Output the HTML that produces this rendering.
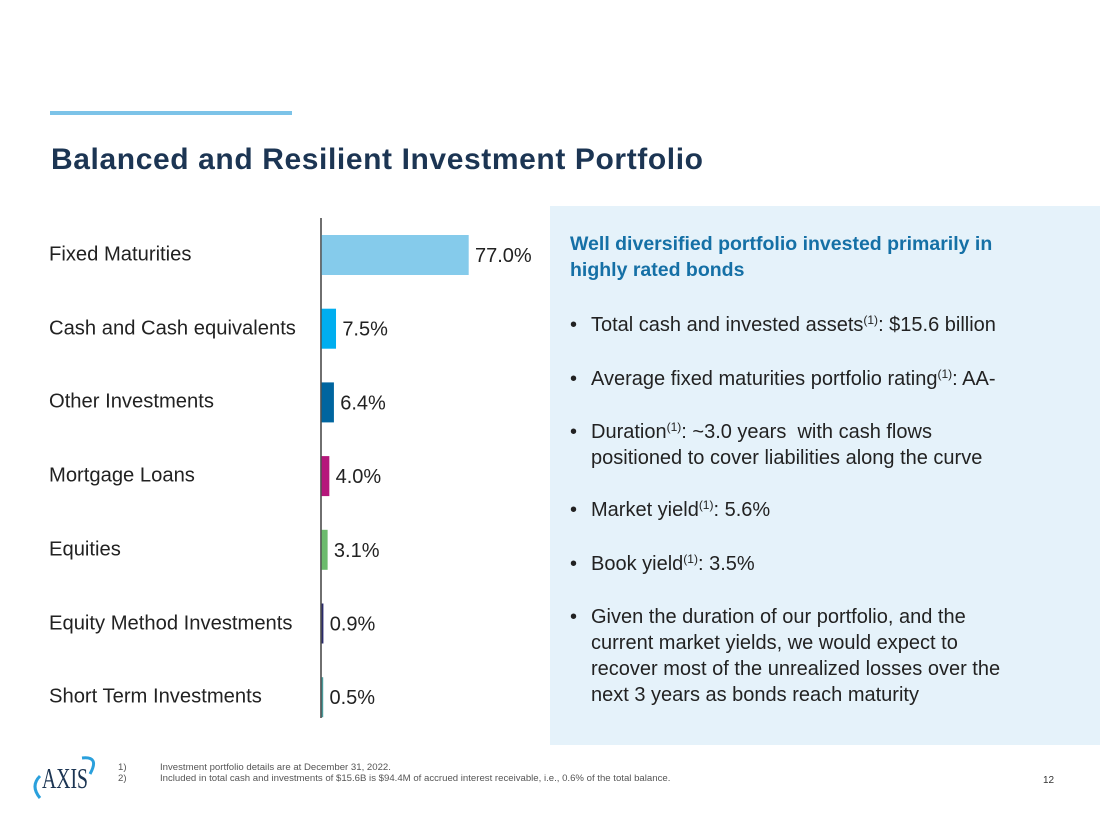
<!DOCTYPE html>
<html><head><meta charset="utf-8"><style>
body{margin:0;width:1100px;height:825px;background:#fff;font-family:"Liberation Sans",sans-serif;position:relative;overflow:hidden}
.abs{position:absolute}
.lbl{position:absolute;left:49px;font-size:20.2px;color:#222;transform:translateY(-50%);white-space:nowrap}
.panel{left:550px;top:206px;width:550px;height:539px;background:#e5f2fa}
.bul{position:absolute;left:570px;font-size:20px;color:#222;line-height:26px;width:445px}
.bul span.d{position:absolute;left:0}
.bul div{margin-left:21px}
sup{font-size:12px;vertical-align:7px;line-height:0}
</style></head><body>
<div class="abs" style="left:50px;top:111px;width:242px;height:4px;background:#7cc3e8"></div>
<div class="abs" style="left:51px;top:143px;font-size:30px;font-weight:bold;color:#1c3553;letter-spacing:0.6px">Balanced and Resilient Investment Portfolio</div>
<svg class="abs" style="left:0;top:0" width="550" height="745" id="chart"></svg>
<div class="abs panel"></div>
<div class="abs" style="left:570px;top:231px;font-size:19.5px;font-weight:bold;color:#1570a6;line-height:26px;width:475px">Well diversified portfolio invested primarily in highly rated bonds</div>
<div class="bul" style="top:312px"><span class="d">•</span><div>Total cash and invested assets<sup>(1)</sup>: $15.6 billion</div></div>
<div class="bul" style="top:366px"><span class="d">•</span><div>Average fixed maturities portfolio rating<sup>(1)</sup>: AA-</div></div>
<div class="bul" style="top:419px"><span class="d">•</span><div>Duration<sup>(1)</sup>: ~3.0 years&nbsp; with cash flows positioned to cover liabilities along the curve</div></div>
<div class="bul" style="top:497px"><span class="d">•</span><div>Market yield<sup>(1)</sup>: 5.6%</div></div>
<div class="bul" style="top:551px"><span class="d">•</span><div>Book yield<sup>(1)</sup>: 3.5%</div></div>
<div class="bul" style="top:604px"><span class="d">•</span><div>Given the duration of our portfolio, and the current market yields, we would expect to recover most of the unrealized losses over the next 3 years as bonds reach maturity</div></div>
<svg class="abs" style="left:30px;top:752px" width="75" height="50">
<path d="M10 46 Q0 34 10 24" stroke="#2aa0dc" stroke-width="3" fill="none"/>
<path d="M52 6 Q70 4 60 22" stroke="#2aa0dc" stroke-width="3" fill="none"/>
<text x="12" y="36" font-family="Liberation Serif,serif" font-size="28" fill="#1c3553" textLength="46" lengthAdjust="spacingAndGlyphs">AXIS</text>
</svg>
<div class="abs" style="left:118px;top:762px;font-size:9.6px;color:#555;line-height:11px">
<div><span style="display:inline-block;width:42px">1)</span>Investment portfolio details are at December 31, 2022.</div>
<div><span style="display:inline-block;width:42px">2)</span>Included in total cash and investments of $15.6B is $94.4M of accrued interest receivable, i.e., 0.6% of the total balance.</div>
</div>
<div class="abs" style="left:1043px;top:775px;font-size:10px;color:#333">12</div>
<script>
const categories=["Fixed Maturities","Cash and Cash equivalents","Other Investments","Mortgage Loans","Equities","Equity Method Investments","Short Term Investments"];
const values=[77.0,7.5,6.4,4.0,3.1,0.9,0.5];
const valueLabels=["77.0%","7.5%","6.4%","4.0%","3.1%","0.9%","0.5%"];
const colors=["#85cbeb","#00aeef","#00659f","#b5177b","#6cbb6d","#2b2b6b","#4a9a9a"];
const svg=document.getElementById('chart');
const NS='http://www.w3.org/2000/svg';
const x0=321,scale=147/77;
const y=i=>255+i*73.7;
const ax=document.createElementNS(NS,'line');
ax.setAttribute('x1',x0);ax.setAttribute('x2',x0);ax.setAttribute('y1',218);ax.setAttribute('y2',718);
ax.setAttribute('stroke','#222');ax.setAttribute('stroke-width','1.3');


svg.appendChild(ax);
categories.forEach((c,i)=>{
 const w=Math.max(values[i]*scale,1.5);
 const r=document.createElementNS(NS,'rect');
 r.setAttribute('x',x0+0.7);r.setAttribute('y',y(i)-20);r.setAttribute('width',w);r.setAttribute('height',40);r.setAttribute('fill',colors[i]);
 
 
 svg.appendChild(r);
 const t=document.createElementNS(NS,'text');
 t.setAttribute('x',x0+w+7);t.setAttribute('y',y(i)+7);t.setAttribute('font-size','20');t.setAttribute('fill','#222');
 t.textContent=valueLabels[i];
 
 
 svg.appendChild(t);
 const l=document.createElement('div');
 l.className='lbl';l.style.top=y(i)+'px';l.textContent=c;
 
 
 document.body.appendChild(l);
});
</script>
</body></html>
